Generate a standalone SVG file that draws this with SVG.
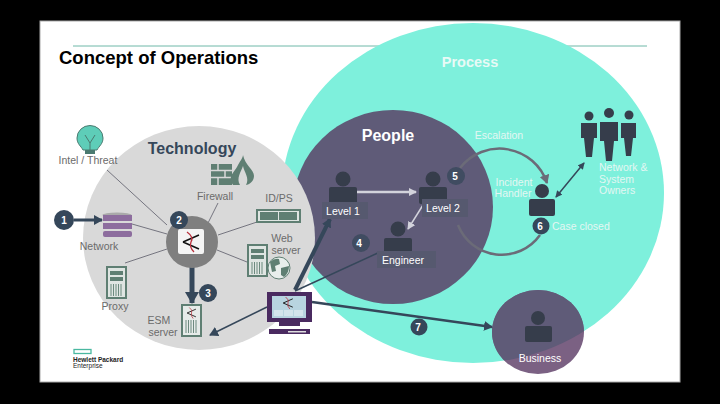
<svg xmlns="http://www.w3.org/2000/svg" width="720" height="404" viewBox="0 0 720 404">
<style>
text{font-family:"Liberation Sans",Arial,sans-serif}
.g{font-size:10.5px;fill:#6b6b6b;text-anchor:middle}
.w{font-size:10.5px;fill:#fff;text-anchor:middle}
.m{font-size:10.5px;fill:#e4f7f3;text-anchor:middle}
.ml{font-size:10.5px;fill:#e4f7f3}
.bt{font-size:10px;font-weight:bold;fill:#fff;text-anchor:middle}
.b{fill:#35475a}
.bf{fill:#35475a;opacity:.75}
.p{fill:#363d4b}
.lb{fill:#56596f}
.th{stroke:#5a5a68;stroke-width:.8;fill:none}
.sv{fill:#5f7f73}
</style>
<defs>
<marker id="a" markerUnits="userSpaceOnUse" markerWidth="10" markerHeight="10" refX="8" refY="5" orient="auto"><path d="M0 0L9 5L0 10Z" fill="#35475a"/></marker>
<marker id="t" markerUnits="userSpaceOnUse" markerWidth="13" markerHeight="14" refX="11" refY="7" orient="auto"><path d="M0 0L12 7L0 14Z" fill="#35475a"/></marker>
<marker id="s" markerUnits="userSpaceOnUse" markerWidth="7" markerHeight="7" refX="6" refY="3.5" orient="auto-start-reverse"><path d="M0 0L7 3.5L0 7Z" fill="#35475a"/></marker>
<marker id="l" markerUnits="userSpaceOnUse" markerWidth="8" markerHeight="8" refX="7" refY="4" orient="auto"><path d="M0 0L8 4L0 8Z" fill="#d3d3dc"/></marker>
<marker id="e" markerUnits="userSpaceOnUse" markerWidth="10" markerHeight="10" refX="8" refY="5" orient="auto"><path d="M0 0L9 5L0 10Z" fill="#6b6b78"/></marker>
<clipPath id="pc"><ellipse cx="473" cy="193" rx="191" ry="170"/></clipPath>
<g id="srv"><rect x="0" y="0" width="21" height="33" fill="#5f7f73"/><rect x="2" y="2" width="17" height="29" fill="#dfe5e2"/><rect x="4" y="5" width="13" height="4" class="sv"/><rect x="4" y="11" width="13" height="4" class="sv"/><path d="M5 18V30M7.500 18V30M10 18V30M12.500 18V30M15 18V30" stroke="#5f7f73" stroke-width=".9"/></g>
<g id="ic"><path d="M-8 0L8 -7M-8 0L8 7" stroke="#111" stroke-width="1.500" fill="none"/><path d="M-4 -10Q3 -5 0 0Q-2 5 3 10" stroke="#b8303c" stroke-width="1.300" fill="none"/></g>
</defs>
<rect width="720" height="404" fill="#000"/>
<rect x="40" y="21" width="640" height="361" fill="#fff" stroke="#aaa" stroke-width="1"/>
<path d="M73 46H647" stroke="#6fb8a8" stroke-width="1"/>
<text x="59" y="64" font-size="18.500px" font-weight="bold" fill="#000">Concept of Operations</text>

<g id="process"><ellipse cx="473" cy="193" rx="191" ry="170" fill="#7ef0dc"/><text x="470" y="67" font-size="14.500px" font-weight="bold" fill="#e8faf6" text-anchor="middle">Process</text></g>
<g id="people"><ellipse cx="393" cy="207" rx="100" ry="97" fill="#5f5b78"/><text x="388" y="141" font-size="16px" font-weight="bold" fill="#fff" text-anchor="middle">People</text></g>
<g id="business"><ellipse cx="538" cy="332" rx="46" ry="42" fill="#7b6183"/><ellipse cx="538" cy="332" rx="46" ry="42" fill="#5f5b78" clip-path="url(#pc)"/>
<circle cx="538" cy="318" r="7" class="p"/><rect x="525" y="326" width="27" height="16" rx="2" class="p"/><text x="540" y="362" class="w">Business</text></g>
<g id="technology"><ellipse cx="199" cy="238" rx="116" ry="112" fill="#d9d9d9"/><text x="192" y="154" font-size="16px" font-weight="bold" fill="#35475a" text-anchor="middle">Technology</text></g>

<g id="connectors" fill="none">
<path class="th" d="M107 170L167 225M132 224L167 234M218 203L208 223M257 222L218 235M217 250L247 262M125 263L167 249"/>
<path d="M74 220H102" stroke="#35475a" stroke-width="3" marker-end="url(#a)"/>
<path d="M192 266V303" stroke="#35475a" stroke-width="5" marker-end="url(#t)"/>
<path d="M267 307L210 335" stroke="#35475a" stroke-width="1.500" marker-end="url(#a)"/>
<path d="M295 290L330 219" stroke="#35475a" stroke-width="4" marker-end="url(#a)"/>
<path d="M295 291L380 252" stroke="#35475a" stroke-width="1.500"/>
<path d="M312 302L492 327" stroke="#35475a" stroke-width="2.500" marker-end="url(#a)"/>
<path d="M357 192H416" stroke="#d3d3dc" stroke-width="2.500" marker-end="url(#l)"/>
<path d="M423 205L408 229" stroke="#d3d3dc" stroke-width="1.500" marker-end="url(#l)"/>
<path d="M460 168A50 50 0 0 1 547 183" stroke="#6b6b78" stroke-width="2.500" marker-end="url(#e)"/>
<path d="M458 225A47 47 0 0 0 540 235" stroke="#6b6b78" stroke-width="2.500"/>
<path d="M584 163L556 197" stroke="#35475a" stroke-width="1.500" marker-start="url(#s)" marker-end="url(#s)"/>
</g>

<g id="intel"><path d="M77 138a13 12.500 0 1 1 26 0c0 6-4 8-6 12h-14c-2-4-6-6-6-12Z" fill="#5ecdb8" stroke="#4a7a70" stroke-width="1"/><path d="M85 135l5 8 5-8M90 143v7" stroke="#4a7a70" fill="none"/><rect x="85" y="150" width="10" height="4" fill="#4a7a70"/><text x="88" y="164" class="g">Intel / Threat</text></g>
<g id="network"><ellipse cx="117" cy="215" rx="14.500" ry="2.500" fill="#aaa"/><rect x="103" y="215" width="29" height="6" fill="#8d6d9e"/><rect x="103" y="223" width="29" height="6" fill="#8d6d9e"/><rect x="103" y="231" width="29" height="6" rx="2" fill="#8d6d9e"/><text x="99" y="250" class="g">Network</text></g>
<g id="firewall"><rect x="211" y="164" width="21" height="21" fill="#5f7f73"/><path d="M211 170.500H232M211 177.500H232M218 164V170M225 170V178M218 178V185" stroke="#d9d9d9" stroke-width="1.500"/><path d="M233 185C227 176 235 172 238 165C241 160 243 157 243 155C245 165 254 170 254 176C254 182 248 185 246 185C250 178 244 172 243 166C241 172 236 178 240 185Z" fill="#5f7f73"/><text x="215" y="200" class="g">Firewall</text></g>
<g id="idps"><rect x="256" y="209" width="45" height="14" fill="#5f7f73"/><rect x="258" y="211" width="41" height="10" fill="#dfe5e2"/><rect x="260" y="212" width="18" height="8" class="sv"/><rect x="279" y="212" width="18" height="8" class="sv"/><text x="279" y="202" class="g">ID/PS</text></g>
<g id="web"><use href="#srv" x="247" y="244"/><circle cx="279" cy="268" r="11" fill="#e8eeec"/><path d="M270 262q4-4 9-3l1 5-5 2 1 5-4 1zM281 268l8-2q0 7-5 11l-3-2z" fill="#5f7f73"/><circle cx="279" cy="268" r="11" fill="none" stroke="#5f7f73"/><text x="282" y="242" class="g">Web</text><text x="286" y="254" class="g">server</text></g>
<g id="proxy"><use href="#srv" x="106" y="266"/><text x="115" y="310" class="g">Proxy</text></g>
<g id="hub"><circle cx="192" cy="242" r="26" fill="#7f7f7f"/><rect x="178" y="229" width="26" height="25" rx="2" fill="#f4f4f4"/><use href="#ic" x="191" y="242"/></g>
<g id="esm"><rect x="181" y="304" width="21" height="33" fill="#5f7f73"/><rect x="183" y="306" width="17" height="29" fill="#e6ebe9"/><use href="#ic" transform="translate(191.500 313) scale(.55)"/><path d="M186 320V333M188.500 320V333M191 320V333M193.500 320V333M196 320V333" stroke="#5f7f73" stroke-width=".9"/><text x="159" y="324" class="g">ESM</text><text x="163" y="336" class="g">server</text></g>
<g id="console"><rect x="267" y="292" width="45" height="30" fill="#4a2a60"/><rect x="272" y="296" width="34" height="22" fill="#b8d4e0"/><rect x="274" y="310" width="9" height="6" fill="#d4e4ec"/><rect x="284" y="310" width="9" height="6" fill="#d4e4ec"/><rect x="294" y="310" width="9" height="6" fill="#d4e4ec"/><use href="#ic" transform="translate(288 303) scale(.6)"/><rect x="279" y="322" width="21" height="4" fill="#4a2a60"/><rect x="269" y="329" width="41" height="5" fill="#4a2a60"/><rect x="288" y="331" width="18" height="1.500" fill="#ddd"/></g>

<g id="level1"><circle cx="343" cy="179" r="7.500" class="p"/><rect x="329" y="187" width="28" height="17" rx="2" class="p"/><rect x="322" y="202" width="46" height="17" class="lb"/><text x="343" y="215" class="w">Level 1</text></g>
<g id="level2"><circle cx="433" cy="179" r="7.500" class="p"/><rect x="419" y="187" width="28" height="17" rx="2" class="p"/><rect x="422" y="199" width="46" height="18" class="lb"/><text x="443" y="212" class="w">Level 2</text></g>
<g id="engineer"><circle cx="398" cy="229" r="7.500" class="p"/><rect x="384" y="238" width="28" height="17" rx="2" class="p"/><rect x="377" y="251" width="59" height="17" class="lb"/><text x="403" y="264" class="w">Engineer</text></g>
<g id="handler"><circle cx="542" cy="191" r="7" class="p"/><rect x="529" y="199" width="26" height="17" rx="2" class="p"/><text x="514" y="186" class="m">Incident</text><text x="513" y="197" class="m">Handler</text></g>
<text x="499" y="139" class="m">Escalation</text>
<text x="552" y="230" class="ml">Case closed</text>
<g id="owners"><g class="p"><circle cx="589" cy="116" r="4.500"/><path d="M581 123h16v15h-3l-2 19h-6l-2-19h-3z"/><circle cx="609" cy="113" r="5"/><path d="M600 122h18v19h-4l-2 20h-6l-2-20h-4z"/><circle cx="629" cy="115" r="4.500"/><path d="M621 123h15v15h-3l-2 18h-5l-2-18h-3z"/></g><text x="599" y="171" class="ml">Network &amp;</text><text x="599" y="183" class="ml">System</text><text x="599" y="194" class="ml">Owners</text></g>

<g id="badge1"><circle cx="64" cy="220" r="10" class="b"/><text x="64" y="224" class="bt">1</text></g>
<g id="badge2"><circle cx="179" cy="220" r="9" class="b"/><text x="179" y="224" class="bt">2</text></g>
<g id="badge3"><circle cx="208" cy="293" r="9" class="b"/><text x="208" y="297" class="bt">3</text></g>
<g id="badge4"><circle cx="361" cy="243" r="9" class="bf"/><text x="359" y="247" class="bt">4</text></g>
<g id="badge5"><circle cx="456" cy="176" r="9" class="bf"/><text x="455" y="180" class="bt">5</text></g>
<g id="badge6"><circle cx="541" cy="226" r="8.500" class="b"/><text x="540" y="230" class="bt">6</text></g>
<g id="badge7"><circle cx="419" cy="327" r="8.500" class="b"/><text x="418" y="331" class="bt">7</text></g>

<g id="logo"><rect x="74" y="349.500" width="17" height="4" fill="none" stroke="#4ab8a0" stroke-width="1.300"/><text x="73" y="362" font-size="6.500px" font-weight="bold" fill="#222">Hewlett Packard</text><text x="73" y="368" font-size="6.500px" fill="#222">Enterprise</text></g>
</svg>
